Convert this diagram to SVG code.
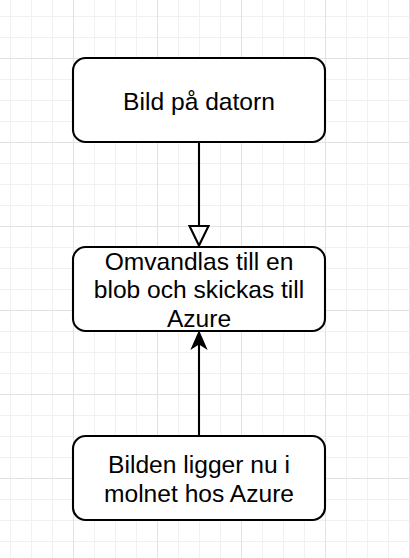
<svg xmlns="http://www.w3.org/2000/svg" width="410" height="558" viewBox="0 0 410 558">
  <style>
    .box { fill: #ffffff; stroke: #000000; stroke-width: 2.1; }
    .lbl { font-family: "Liberation Sans", Arial, sans-serif; font-size: 24.6px; fill: #000000; text-anchor: middle; }
    .edge { stroke: #000000; stroke-width: 2.1; fill: none; }
  </style>
  <defs>
    <pattern id="grid" patternUnits="userSpaceOnUse" x="73" y="58" width="84" height="84">
      <rect x="0" y="0" width="84" height="84" fill="#ffffff"/>
      <g fill="#f1f1f1">
        <rect x="21" y="0" width="1" height="84"/>
        <rect x="42" y="0" width="1" height="84"/>
        <rect x="63" y="0" width="1" height="84"/>
        <rect x="0" y="21" width="84" height="1"/>
        <rect x="0" y="42" width="84" height="1"/>
        <rect x="0" y="63" width="84" height="1"/>
      </g>
      <g fill="#e2e2e2">
        <rect x="0" y="0" width="1" height="84"/>
        <rect x="0" y="0" width="84" height="1"/>
      </g>
    </pattern>
  </defs>
  <rect x="0" y="0" width="410" height="558" fill="url(#grid)"/>

  <g id="connectors">
    <g id="edge1">
      <line class="edge" x1="199" y1="142" x2="199" y2="226"/>
      <polygon class="edge" points="189.5,226 208.5,226 199,245.5" fill="#ffffff"/>
    </g>
    <g id="edge2">
      <line class="edge" x1="199" y1="436" x2="199" y2="343"/>
      <polygon points="199,332 206,348 199,343.5 192,348" fill="#000000" stroke="#000000" stroke-width="1.5" stroke-linejoin="miter"/>
    </g>
  </g>

  <g id="node-bild">
    <rect class="box" x="73" y="58" width="252" height="84" rx="12.6" ry="12.6"/>
    <text class="lbl" x="199" y="110">Bild på datorn</text>
  </g>

  <g id="node-omvandlas">
    <rect class="box" x="73" y="247" width="252" height="84" rx="12.6" ry="12.6"/>
    <text class="lbl" x="199" y="270">Omvandlas till en</text>
    <text class="lbl" x="199" y="298.3">blob och skickas till</text>
    <text class="lbl" x="199" y="326.7">Azure</text>
  </g>

  <g id="node-molnet">
    <rect class="box" x="73" y="436" width="252" height="84" rx="12.6" ry="12.6"/>
    <text class="lbl" x="199" y="473.3">Bilden ligger nu i</text>
    <text class="lbl" x="199" y="501.7">molnet hos Azure</text>
  </g>
</svg>
